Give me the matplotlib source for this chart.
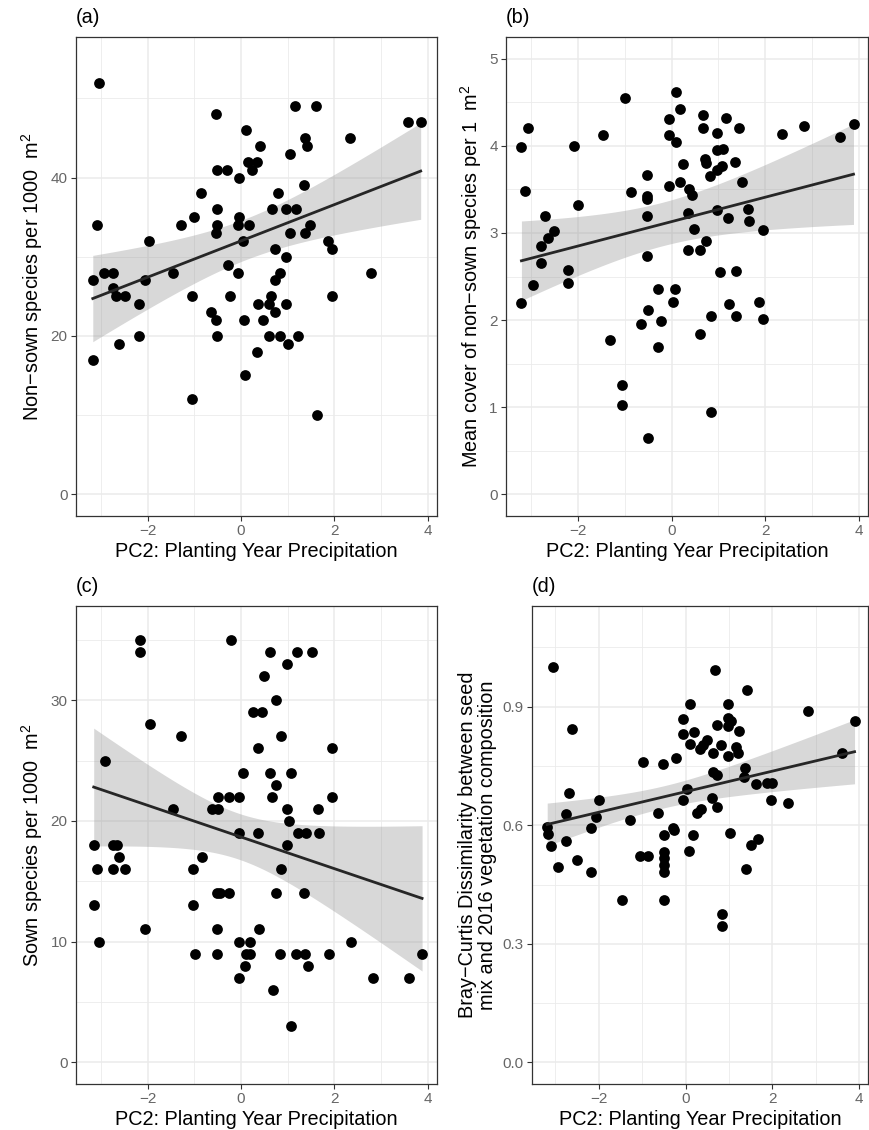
import numpy as np
import matplotlib
matplotlib.use("Agg")
import matplotlib.pyplot as plt
from matplotlib.ticker import MultipleLocator

plt.rcParams['font.family'] = ['Liberation Sans', 'DejaVu Sans']
plt.rcParams['mathtext.default'] = 'regular'

# (a) non-sown richness per 1000 m2
a_x = [-3.04, -0.53, 1.16, 1.61, 3.57, 3.85, 0.11, 1.36, 2.34, 0.41, 1.41, 1.05, 0.15, 0.34,
       0.23, -0.51, -0.30, -0.04, 1.34, -0.85, 0.80, -0.51, 0.67, 0.96, 1.18, -1.00, -0.05,
       -1.28, -0.51, -0.06, 0.16, 1.48, -3.10, -0.53, 1.05, 1.36, -1.97, 0.03, 1.86, 1.94,
       0.72, 0.96, -0.29, -3.18, -2.94, -2.75, -1.45, -0.06, 0.83, 2.79, -2.07, 0.72, -2.75,
       -2.68, -2.49, -1.05, -0.23, 0.64, 1.94, -2.18, 0.37, 0.60, 0.96, -0.64, 0.72, -0.53,
       0.06, 0.47, -2.18, -0.52, 0.60, 0.83, 1.21, -2.62, 1.01, -3.17, 0.34, 0.09, -1.05, 1.63]
a_y = [52, 48, 49, 49, 47, 47, 46, 45, 45, 44, 44, 43, 42, 42,
       41, 41, 41, 40, 39, 38, 38, 36, 36, 36, 36, 35, 35,
       34, 34, 34, 34, 34, 34, 33, 33, 33, 32, 32, 32, 31,
       31, 30, 29, 27, 28, 28, 28, 28, 28, 28, 27, 27, 26,
       25, 25, 25, 25, 25, 25, 24, 24, 24, 24, 23, 23, 22,
       22, 22, 20, 20, 20, 20, 20, 19, 19, 17, 18, 15, 12, 10]

# (b) mean cover of non-sown species per 1 m2
b_x = [-3.21, -3.07, -3.13, -2.70, -2.52, -2.64, -2.79, -2.79, -2.21, -2.08, -2.01, -1.47,
       -1.00, -0.86, -0.53, -0.53, -0.53, -0.53, -0.53, -0.05, -0.06, 0.10, 0.17, 0.10, -0.05,
       0.17, 0.25, 0.37, 0.43, 0.35, 0.48, 0.35, 0.61, 0.73, 0.67, 0.68, 0.72, 0.73, 0.82,
       0.98, 0.97, 1.09, 1.07, 0.98, 1.17, 1.44, 1.35, 1.50, 0.98, 1.20, 1.64, 1.65, 1.96,
       2.36, 2.83, 3.61, 3.89, 1.03, 1.37, -3.21, -2.96, -2.21, -1.31, -1.06, -1.06, -0.65,
       -0.51, -0.29, -0.23, -0.29, -0.51, 0.07, 0.04, 0.61, 0.84, 0.84, 1.23, 1.38, 1.87, 1.96]
b_y = [3.99, 4.20, 3.48, 3.20, 3.02, 2.94, 2.85, 2.65, 2.58, 4.00, 3.32, 4.12,
       4.55, 3.47, 3.66, 3.43, 3.39, 3.20, 2.73, 4.31, 4.12, 4.62, 4.42, 4.05, 3.54,
       3.58, 3.79, 3.51, 3.44, 3.23, 3.04, 2.81, 2.81, 2.91, 4.36, 4.20, 3.85, 3.80, 3.65,
       4.15, 3.95, 3.96, 3.77, 3.72, 4.32, 4.20, 3.81, 3.58, 3.26, 3.17, 3.27, 3.14, 3.03,
       4.14, 4.23, 4.10, 4.25, 2.55, 2.56, 2.19, 2.40, 2.42, 1.77, 1.25, 1.02, 1.95,
       2.12, 2.36, 1.99, 1.69, 0.65, 2.36, 2.21, 1.84, 2.05, 0.94, 2.18, 2.05, 2.21, 2.01]

# (c) sown richness per 1000 m2
c_x = [-2.16, -2.16, -0.21, 0.63, 1.19, 1.51, 0.98, 0.49, 0.74, 0.25, 0.44, -1.96, -1.29,
       0.86, 0.36, 1.95, -2.91, 0.05, 0.63, 1.07, 0.74, -0.50, -0.27, -0.05, 0.66, 1.95,
       -1.45, -0.63, -0.50, 0.98, 1.64, 1.02, -0.05, 0.36, 1.21, 1.40, 1.66, 0.98, -3.16,
       -2.75, -2.66, -2.61, -0.84, -3.09, -2.75, -2.49, -1.04, 0.86, -0.51, -0.46, -0.27,
       0.74, 1.35, -3.15, -1.04, -2.06, -0.51, 0.38, -3.05, -0.04, 0.19, 2.35, -0.99, -0.51,
       0.11, 0.20, 0.83, 1.17, 1.37, 1.88, 3.88, 0.09, 1.44, -0.05, 2.82, 3.59, 0.69, 1.07]
c_y = [35, 34, 35, 34, 34, 34, 33, 32, 30, 29, 29, 28, 27,
       27, 26, 26, 25, 24, 24, 24, 23, 22, 22, 22, 22, 22,
       21, 21, 21, 21, 21, 20, 19, 19, 19, 19, 19, 18, 18,
       18, 18, 17, 17, 16, 16, 16, 16, 16, 14, 14, 14,
       14, 14, 13, 13, 11, 11, 11, 10, 10, 10, 10, 9, 9,
       9, 9, 9, 9, 9, 9, 9, 8, 8, 7, 7, 7, 6, 3]

# (d) Bray-Curtis dissimilarity, seed mix vs 2016 vegetation
d_x = [-3.05, 0.68, 1.42, 0.11, 0.98, 2.82, 3.89, -2.63, -0.06, 0.98, 1.05, 0.73, 0.98,
       1.22, -0.06, 0.19, 0.11, 0.49, 0.41, 0.34, 0.82, 1.16, 0.62, 1.20, 0.98, -0.99,
       -0.52, -0.23, 3.61, 1.37, 0.64, 0.73, 1.35, 1.63, 1.88, 1.99, 0.04, -2.69, -1.99,
       -0.06, 0.61, 1.96, 2.36, 0.73, 0.35, 0.25, -0.64, -2.76, -2.07, -1.29, -3.19, -2.17,
       -0.29, -3.18, -3.10, -2.76, -2.93, -2.50, -2.17, -1.46, -1.05, -0.86, -0.51, -0.51,
       -0.51, -0.51, -0.51, -0.51, -0.28, 0.08, 0.17, 1.02, 0.84, 0.84, 1.39, 1.50, 1.67]
d_y = [1.000, 0.992, 0.942, 0.907, 0.907, 0.890, 0.865, 0.843, 0.869, 0.872, 0.865, 0.854, 0.850,
       0.839, 0.832, 0.837, 0.806, 0.816, 0.802, 0.793, 0.804, 0.799, 0.784, 0.784, 0.775, 0.761,
       0.755, 0.771, 0.783, 0.745, 0.734, 0.726, 0.722, 0.705, 0.707, 0.707, 0.692, 0.681, 0.663,
       0.663, 0.668, 0.665, 0.657, 0.645, 0.641, 0.631, 0.631, 0.628, 0.620, 0.613, 0.596, 0.594,
       0.594, 0.577, 0.548, 0.560, 0.495, 0.512, 0.482, 0.411, 0.522, 0.522, 0.576, 0.533,
       0.516, 0.499, 0.482, 0.411, 0.589, 0.534, 0.576, 0.581, 0.376, 0.344, 0.489, 0.551, 0.565]

# fitted trend: intercept at x=0, slope,
# band centre x, half-width of the band at its centre, growth of half-width per unit x
a_fit = [32.0, 2.29, 0.09, 2.6, 1.465]
b_fit = [3.13, 0.140, -0.20, 0.25, 0.127]
c_fit = [18.66, -1.31, -0.06, 1.9, 1.45]
d_fit = [0.685, 0.026, -0.52, 0.028, 0.0173]

x_label = "PC2: Planting Year Precipitation"
panels = [
    ("(a)", a_x, a_y, a_fit, "Non\u2212sown species per 1000  m$^2$", (-2.75, 57.75), 20, 10, "{:.0f}"),
    ("(b)", b_x, b_y, b_fit, "Mean cover of non\u2212sown species per 1  m$^2$", (-0.25, 5.25), 1, 0.5, "{:.0f}"),
    ("(c)", c_x, c_y, c_fit, "Sown species per 1000  m$^2$", (-1.8, 37.8), 10, 5, "{:.0f}"),
    ("(d)", d_x, d_y, d_fit, "Bray\u2212Curtis Dissimilarity between seed\nmix and 2016 vegetation composition",
     (-0.055, 1.155), 0.3, 0.15, "{:.1f}"),
]

W, H = 870, 1130
# axes boxes in pixels: left, top, right, bottom
boxes = [(76, 37, 437, 516), (506, 37, 868, 516), (76, 606, 437, 1084), (532, 606, 868, 1084)]

fig = plt.figure(figsize=(W / 100, H / 100), dpi=100)

for (tag, xs, ys, fit, ylab, ylim, major, minor, fmt), (l, t, r, b) in zip(panels, boxes):
    ax = fig.add_axes([l / W, 1 - b / H, (r - l) / W, (b - t) / H])
    xs = np.array(xs)
    ys = np.array(ys)

    icpt, slope, xc, h0, k = fit
    xg = np.linspace(xs.min(), xs.max(), 100)
    yg = icpt + slope * xg
    half = np.sqrt(h0 ** 2 + (k * (xg - xc)) ** 2)
    ax.fill_between(xg, yg - half, yg + half, color='#999999', alpha=0.38, lw=0, zorder=2)
    ax.scatter(xs, ys, s=60, color='black', lw=0, zorder=3)
    ax.plot(xg, yg, color='#262626', lw=2.0, zorder=4)

    ax.set_xlim(-3.54, 4.2)
    ax.set_ylim(*ylim)
    ax.xaxis.set_major_locator(MultipleLocator(2))
    ax.xaxis.set_minor_locator(MultipleLocator(1))
    ax.yaxis.set_major_locator(MultipleLocator(major))
    ax.yaxis.set_minor_locator(MultipleLocator(minor))
    ax.yaxis.set_major_formatter(lambda v, p, f=fmt: f.format(v).replace('-', '\u2212'))
    ax.grid(which='major', color='#EBEBEB', lw=1.1, zorder=0)
    ax.grid(which='minor', color='#EBEBEB', lw=0.6, zorder=0)
    ax.set_axisbelow(True)
    ax.tick_params(which='major', length=3.5, width=0.8, color='#333333',
                   labelsize=11, labelcolor='#666666', pad=2.5)
    ax.tick_params(which='minor', length=0)
    for sp in ax.spines.values():
        sp.set_color('#333333')
        sp.set_linewidth(0.9)
    ax.set_xlabel(x_label, fontsize=14.3, labelpad=2.5)
    ax.set_ylabel(ylab, fontsize=14.3, labelpad=4, linespacing=1.05)
    ax.annotate(tag, xy=(0, 1), xycoords='axes fraction', xytext=(0, 7),
                textcoords='offset points', ha='left', va='bottom', fontsize=14.3)

fig.savefig("out.png", dpi=100)
